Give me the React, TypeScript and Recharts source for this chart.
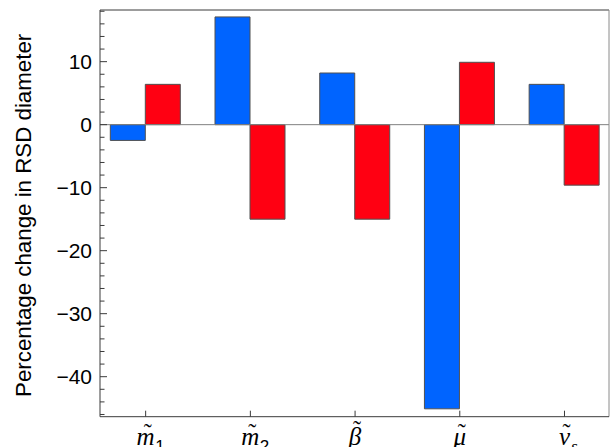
import { Bar, BarChart, ReferenceLine, XAxis, YAxis } from "recharts";

const AZUL = "#0064ff";
const VERMELHO = "#ff0012";
const BORDA = "#505050";
const EIXO = "#3a3a3a";
const SANS = "'Liberation Sans', Arial, sans-serif";
const SERIF = "'Liberation Serif', 'Times New Roman', serif";

// posições das categorias no eixo x (numérico, para controlar o enquadramento)
const POSICOES = [1, 2, 3, 4, 5];
const LETRAS = ["m", "m", "β", "μ", "ν"];
const INDICES = ["1", "2", "", "", "s"];
const AZUIS = [-2.5, 17.1, 8.2, -45.1, 6.4];
const VERMELHOS = [6.4, -15.0, -15.0, 9.9, -9.6];

const Y_TICKS = [
  -46, -44, -42, -40, -38, -36, -34, -32, -30, -28, -26, -24, -22, -20, -18, -16, -14,
  -12, -10, -8, -6, -4, -2, 0, 2, 4, 6, 8, 10, 12, 14, 16, 18,
];
const Y_ROTULOS = [-40, -30, -20, -10, 0, 10];
const Y_DOMINIO: [number, number] = [-46.35, 18.2];
const X_DOMINIO: [number, number] = [0.564, 5.425];

const linhas = POSICOES.map((p, i) => ({ pos: p, azul: AZUIS[i], vermelho: VERMELHOS[i] }));

function menos(v: number): string {
  return v < 0 ? `\u2212${Math.abs(v)}` : `${v}`;
}

// tick do eixo y: traço para dentro + rótulo só nas dezenas
function TickY({ x, y, payload }: { x?: number; y?: number; payload?: { value: number } }) {
  const v = payload?.value ?? 0;
  const maior = Y_ROTULOS.includes(v);
  const x0 = (x ?? 0) + 8;
  return (
    <g>
      <line x1={x0} x2={x0 + (maior ? 7 : 4.5)} y1={y} y2={y} stroke={EIXO} strokeWidth={1} />
      {maior && (
        <text x={x} y={y} dy="0.36em" textAnchor="end" fontFamily={SANS} fontSize={21} fill="#000">
          {menos(v)}
        </text>
      )}
    </g>
  );
}

// tick do eixo x: letra itálica com til e índice
function TickX({ x, y, payload }: { x?: number; y?: number; payload?: { value: number } }) {
  const i = POSICOES.indexOf(payload?.value ?? 0);
  const cx = x ?? 0;
  const cy = y ?? 0;
  const letra = LETRAS[i];
  const alta = letra === "β";
  const meia = letra === "m" ? 9.5 : 6.5;
  return (
    <g>
      <line x1={cx} x2={cx} y1={cy} y2={cy - 6} stroke={EIXO} strokeWidth={1} />
      <text x={cx + 2} y={cy + (alta ? 20 : 23)} textAnchor="middle" fontFamily={SERIF} fontSize={24} fill="#000">
        {"\u02dc"}
      </text>
      <text x={cx} y={cy + 28} textAnchor="middle" fontFamily={SERIF} fontStyle="italic" fontSize={25} fill="#000">
        {letra}
      </text>
      {INDICES[i] && (
        <text x={cx + meia} y={cy + 35} textAnchor="start" fontFamily={INDICES[i] === "s" ? SERIF : SANS} fontStyle={INDICES[i] === "s" ? "italic" : "normal"} fontSize={17} fill="#000">
          {INDICES[i]}
        </text>
      )}
    </g>
  );
}

function RotuloY({ viewBox }: { viewBox?: { x: number; y: number; width: number; height: number } }) {
  const vx = (viewBox?.x ?? 0) + 31.5;
  const vy = (viewBox?.y ?? 0) + (viewBox?.height ?? 0) / 2 + 2;
  return (
    <text
      x={vx}
      y={vy}
      transform={`rotate(-90, ${vx}, ${vy})`}
      textAnchor="middle"
      fontFamily={SANS}
      fontSize={22.3}
      fill="#000"
    >
      Percentage change in RSD diameter
    </text>
  );
}

export default function App() {
  return (
    <div style={{ position: "absolute", left: 0, top: 0, background: "#fff" }}>
      <BarChart
        width={610}
        height={447}
        data={linhas}
        margin={{ top: 10, right: 1, left: 0, bottom: 0 }}
        barGap={0}
        barSize={35}
      >
        <XAxis
          dataKey="pos"
          type="number"
          domain={X_DOMINIO}
          ticks={POSICOES}
          tick={<TickX />}
          tickSize={0}
          tickMargin={0}
          tickLine={false}
          axisLine={{ stroke: EIXO, strokeWidth: 1 }}
          height={30.3}
          interval={0}
        />
        <YAxis
          type="number"
          domain={Y_DOMINIO}
          ticks={Y_TICKS}
          tick={<TickY />}
          tickSize={0}
          tickMargin={8}
          tickLine={false}
          axisLine={{ stroke: EIXO, strokeWidth: 1 }}
          width={100}
          interval={0}
          label={<RotuloY />}
        />
        <ReferenceLine y={0} stroke="#808080" strokeWidth={1} ifOverflow="visible" />
        <ReferenceLine y={Y_DOMINIO[1]} stroke={EIXO} strokeWidth={1} ifOverflow="visible" />
        <ReferenceLine x={X_DOMINIO[1]} stroke="#8a8a8a" strokeWidth={1} ifOverflow="visible" />
        <Bar dataKey="azul" fill={AZUL} stroke={BORDA} strokeWidth={1} isAnimationActive={false} />
        <Bar dataKey="vermelho" fill={VERMELHO} stroke={BORDA} strokeWidth={1} isAnimationActive={false} />
      </BarChart>
    </div>
  );
}
